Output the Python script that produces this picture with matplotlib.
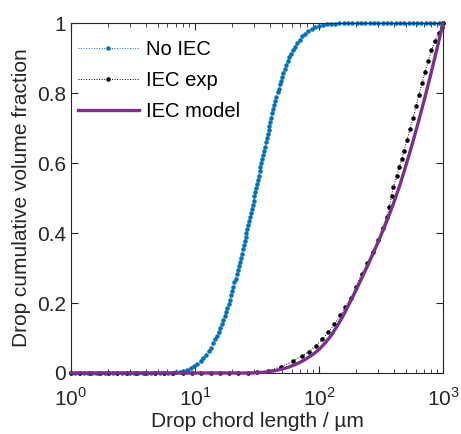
import numpy as np
import matplotlib
matplotlib.use("Agg")
from matplotlib import pyplot as plt
from matplotlib.ticker import LogLocator, NullFormatter

plt.rcParams["font.family"] = ["Liberation Sans", "DejaVu Sans"]
plt.rcParams["mathtext.fontset"] = "custom"
plt.rcParams["mathtext.rm"] = "Liberation Sans"

# No IEC (log10 of chord length, cumulative fraction)
no_iec_logx = [0.0, 0.034, 0.068, 0.102, 0.136, 0.17, 0.204, 0.238, 0.272, 0.306,
               0.34, 0.374, 0.408, 0.442, 0.476, 0.51, 0.544, 0.578, 0.612, 0.646,
               0.68, 0.714, 0.748, 0.782,
               0.815, 0.845, 0.875, 0.905, 0.935, 0.965, 0.993, 1.02, 1.045, 1.068,
               1.09, 1.11, 1.128, 1.145, 1.16, 1.175, 1.19, 1.204, 1.216, 1.228,
               1.24, 1.251, 1.261, 1.271, 1.281, 1.291, 1.3, 1.309, 1.318, 1.327,
               1.336, 1.345, 1.353, 1.361, 1.369, 1.377, 1.385, 1.393, 1.4, 1.408,
               1.415, 1.422, 1.43, 1.437, 1.444, 1.451, 1.458, 1.465, 1.472, 1.479,
               1.486, 1.493, 1.5, 1.507, 1.514, 1.521, 1.528, 1.535, 1.542, 1.549,
               1.556, 1.564, 1.571, 1.578, 1.586, 1.593, 1.6, 1.608, 1.616, 1.624,
               1.632, 1.64, 1.648, 1.657, 1.666, 1.675, 1.684, 1.693, 1.702, 1.713,
               1.724, 1.736, 1.748, 1.762, 1.776, 1.791, 1.806, 1.824, 1.843, 1.864,
               1.887, 1.912, 1.94, 1.968, 1.998, 2.03, 2.063, 2.097, 2.13, 2.165,
               2.2, 2.235, 2.27, 2.304, 2.339, 2.374, 2.409, 2.443, 2.478, 2.513,
               2.548, 2.583, 2.617, 2.652, 2.687, 2.722, 2.757, 2.791, 2.826, 2.861,
               2.896, 2.93, 2.965, 3.0]
no_iec_y = [0.0, 0.0, 0.0, 0.0, 0.0, 0.0, 0.0, 0.0, 0.0, 0.0,
            0.0, 0.0, 0.0, 0.0, 0.0, 0.0, 0.0, 0.0, 0.0, 0.0,
            0.0, 0.0, 0.0005, 0.0008,
            0.001, 0.002, 0.004, 0.006, 0.009, 0.013, 0.019, 0.025, 0.034, 0.043,
            0.052, 0.062, 0.072, 0.085, 0.096, 0.107, 0.118, 0.129, 0.14, 0.151,
            0.163, 0.174, 0.186, 0.198, 0.21, 0.222, 0.235, 0.247, 0.259, 0.27,
            0.282, 0.294, 0.305, 0.317, 0.329, 0.341, 0.353, 0.365, 0.376, 0.388,
            0.4, 0.411, 0.423, 0.435, 0.447, 0.457, 0.469, 0.481, 0.493, 0.505,
            0.517, 0.529, 0.54, 0.552, 0.564, 0.576, 0.588, 0.6, 0.612, 0.624,
            0.635, 0.647, 0.659, 0.671, 0.683, 0.695, 0.706, 0.718, 0.73, 0.742,
            0.754, 0.766, 0.778, 0.79, 0.802, 0.813, 0.825, 0.836, 0.847, 0.858,
            0.869, 0.881, 0.891, 0.902, 0.913, 0.923, 0.933, 0.943, 0.953, 0.962,
            0.97, 0.978, 0.984, 0.989, 0.992, 0.995, 0.997, 0.998, 0.999, 1.0,
            1.0, 1.0, 1.0, 1.0, 1.0, 1.0, 1.0, 1.0, 1.0, 1.0,
            1.0, 1.0, 1.0, 1.0, 1.0, 1.0, 1.0, 1.0, 1.0, 1.0,
            1.0, 1.0, 1.0, 1.0]

# IEC experiment
iec_exp_logx = [0.0, 0.075, 0.15, 0.225, 0.3, 0.375, 0.45, 0.525, 0.6, 0.675,
                0.75, 0.825, 0.9, 0.975, 1.05, 1.125, 1.2, 1.275, 1.35, 1.425, 1.5,
                1.589, 1.694, 1.79, 1.863, 1.919, 1.976, 2.024, 2.073, 2.123, 2.173,
                2.21, 2.256, 2.298, 2.344, 2.39, 2.433, 2.478, 2.512, 2.546, 2.567,
                2.585, 2.599, 2.627, 2.648, 2.667, 2.685, 2.71, 2.734, 2.758, 2.782,
                2.806, 2.831, 2.855, 2.881, 2.907, 2.935, 2.964, 2.992, 3.0]
iec_exp_y = [0.0, 0.0, 0.0, 0.0, 0.0, 0.0, 0.0, 0.0, 0.0, 0.0,
             0.0, 0.0, 0.0, 0.0, 0.0, 0.0, 0.0, 0.0, 0.0, 0.0, 0.002,
             0.006, 0.018, 0.033, 0.049, 0.061, 0.077, 0.096, 0.116, 0.139, 0.165,
             0.188, 0.214, 0.247, 0.283, 0.314, 0.347, 0.38, 0.414, 0.447, 0.475,
             0.506, 0.531, 0.563, 0.589, 0.611, 0.635, 0.667, 0.698, 0.73, 0.762,
             0.795, 0.828, 0.86, 0.893, 0.922, 0.95, 0.972, 0.988, 1.0]

# IEC model
iec_model_logx = [0.0, 0.5, 1.0, 1.45, 1.5, 1.55, 1.6, 1.65, 1.7, 1.75, 1.8, 1.85,
                  1.9, 1.95, 2.0, 2.05, 2.1, 2.15, 2.2, 2.25, 2.3, 2.35, 2.4, 2.45,
                  2.5, 2.55, 2.6, 2.65, 2.7, 2.75, 2.8, 2.85, 2.9, 2.95, 3.0]
iec_model_y = [0.0, 0.0, 0.0, 0.0, 0.001, 0.002, 0.004, 0.007, 0.011, 0.016, 0.023, 0.031,
               0.041, 0.053, 0.067, 0.086, 0.108, 0.136, 0.167, 0.202, 0.238, 0.275, 0.313, 0.353,
               0.394, 0.437, 0.484, 0.535, 0.592, 0.652, 0.716, 0.782, 0.852, 0.925, 1.0]

blue = "#0072BD"
purple = "#7E2F8E"

fig = plt.figure(figsize=(4.61, 4.34), dpi=100)
ax = fig.add_axes([0.154, 0.1406, 0.807, 0.806])

ax.plot(10 ** np.array(no_iec_logx), no_iec_y, color=blue, linestyle=":", linewidth=0.7,
        marker=".", markersize=4.5, label="No IEC", clip_on=False)
ax.plot(10 ** np.array(iec_exp_logx), iec_exp_y, color="k", linestyle=":", linewidth=0.7,
        marker=".", markersize=4.5, label="IEC exp", clip_on=False)
ax.plot(10 ** np.array(iec_model_logx), iec_model_y, color=purple, linewidth=2.4,
        label="IEC model", clip_on=False, zorder=3)

ax.set_xscale("log")
ax.set_xlim(1, 1000)
ax.set_ylim(0, 1)
ax.set_xticks([1, 10, 100, 1000])
ax.set_xticklabels(["$10^0$", "$10^1$", "$10^2$", "$10^3$"])
ax.set_yticks([0, 0.2, 0.4, 0.6, 0.8, 1])
ax.set_yticklabels(["0", "0.2", "0.4", "0.6", "0.8", "1"])
ax.xaxis.set_minor_locator(LogLocator(base=10, subs=np.arange(2, 10), numticks=20))
ax.xaxis.set_minor_formatter(NullFormatter())

ax.tick_params(which="both", direction="in", top=True, right=True, colors="#262626",
               labelsize=15, labelcolor="#262626")
ax.tick_params(which="major", length=5, width=0.8)
ax.tick_params(which="minor", length=3, width=0.6)
ax.tick_params(axis="x", pad=10)
for s in ax.spines.values():
    s.set_color("#262626")
    s.set_linewidth(0.8)

ax.set_xlabel("Drop chord length / µm", fontsize=15, color="#262626", labelpad=2)
ax.set_ylabel("Drop cumulative volume fraction", fontsize=15, color="#262626", labelpad=4)

ax.legend(loc="upper left", bbox_to_anchor=(0.003, 0.969), frameon=False, fontsize=14.5,
          handlelength=3.0, handletextpad=0.35, labelspacing=0.6, borderaxespad=0,
          borderpad=0.3)

fig.savefig("out.png", dpi=100)
